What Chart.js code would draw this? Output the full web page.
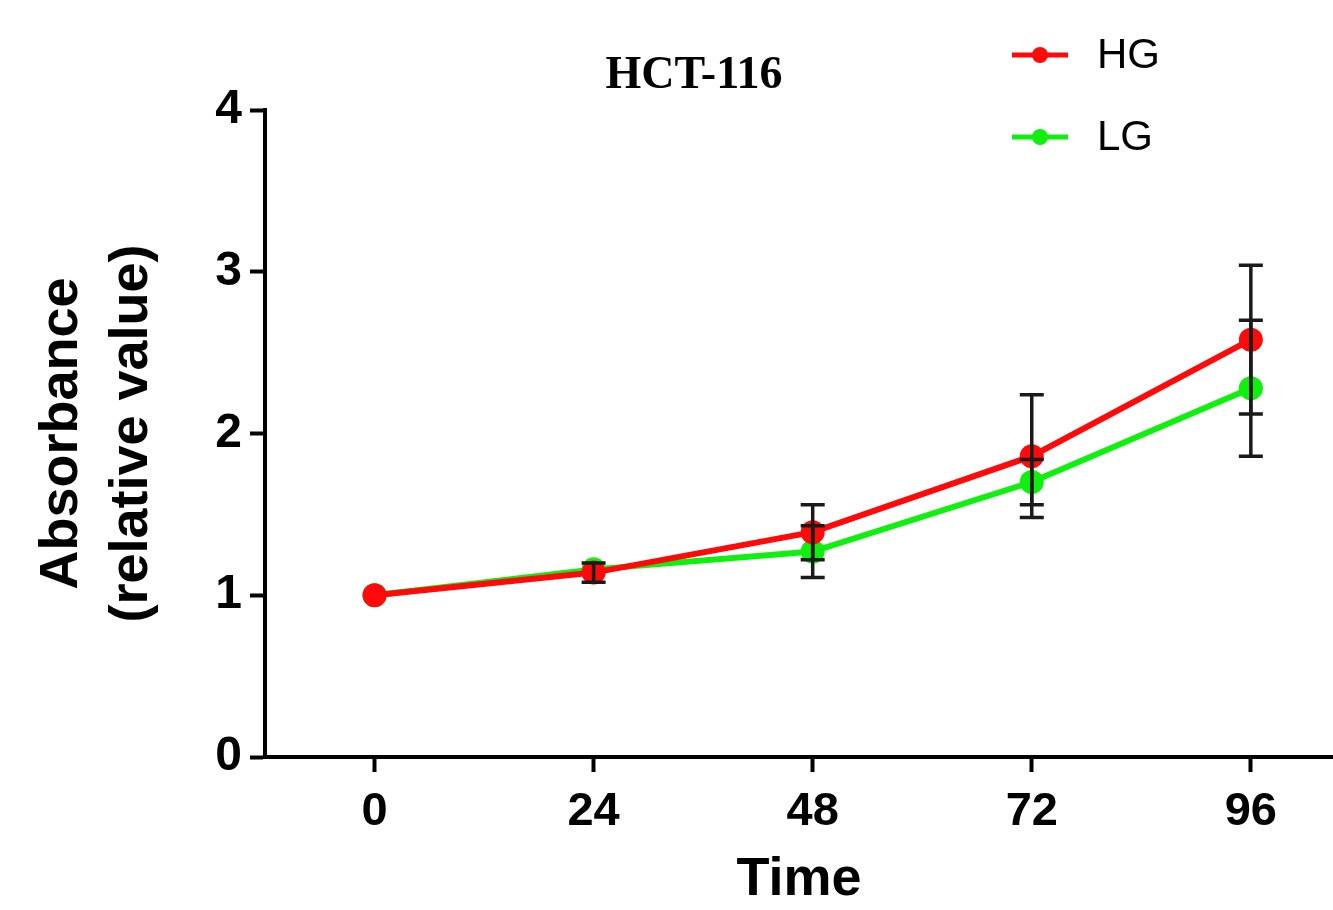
<!DOCTYPE html>
<html>
<head>
<meta charset="utf-8">
<title>HCT-116</title>
<script src="https://cdn.jsdelivr.net/npm/chart.js@4.4.0/dist/chart.umd.min.js"></script>
<style>
  html, body { margin: 0; padding: 0; background: #fff; }
</style>
</head>
<body>
<canvas id="mainChart" width="1333" height="910"></canvas>
<script>
// data
const timePoints = [0, 24, 48, 72, 96];
const xTickLabels = ['0', '24', '48', '72', '96'];
const yTickValues = [0, 1, 2, 3, 4];

const hgValues = [1.00, 1.14, 1.39, 1.86, 2.58];
const hgErrors = [0.00, 0.06, 0.17, 0.38, 0.46];
const lgValues = [1.00, 1.16, 1.27, 1.70, 2.28];
const lgErrors = [0.00, 0.00, 0.16, 0.14, 0.42];

const RED = '#ff0a0a';
const GREEN = '#0ff00f';

function toPoints(values) {
  return timePoints.map((t, i) => ({ x: t, y: values[i] }));
}

// black SD bars, drawn on top of the lines
const errorBars = {
  id: 'errorBars',
  afterDatasetsDraw(chart) {
    const ctx = chart.ctx;
    const xs = chart.scales.x, ys = chart.scales.y;
    ctx.save();
    ctx.strokeStyle = '#1a1a1a';
    ctx.lineWidth = 3.5;
    chart.data.datasets.forEach(ds => {
      ds.errors.forEach((e, i) => {
        if (!e) return;
        const px = xs.getPixelForValue(timePoints[i]);
        const top = ys.getPixelForValue(ds.data[i].y + e);
        const bot = ys.getPixelForValue(ds.data[i].y - e);
        ctx.beginPath();
        ctx.moveTo(px, top); ctx.lineTo(px, bot);
        ctx.moveTo(px - 12, top); ctx.lineTo(px + 12, top);
        ctx.moveTo(px - 12, bot); ctx.lineTo(px + 12, bot);
        ctx.stroke();
      });
    });
    ctx.restore();
  }
};

// title + legend in the top area
const decorations = {
  id: 'decorations',
  afterDraw(chart) {
    const ctx = chart.ctx;
    ctx.save();
    ctx.fillStyle = '#000';
    ctx.textAlign = 'center';
    ctx.textBaseline = 'middle';
    ctx.font = 'bold 46px "Liberation Serif", "Times New Roman", serif';
    ctx.fillText('HCT-116', 694, 76);

    chart.data.datasets.forEach((ds, i) => {
      const y = 55 + i * 82;
      ctx.strokeStyle = ds.borderColor;
      ctx.lineWidth = 5;
      ctx.beginPath();
      ctx.moveTo(1012, y); ctx.lineTo(1068, y);
      ctx.stroke();
      ctx.fillStyle = ds.borderColor;
      ctx.beginPath();
      ctx.arc(1040, y, 8, 0, Math.PI * 2);
      ctx.fill();
      ctx.fillStyle = '#000';
      ctx.textAlign = 'left';
      ctx.font = '42px "Liberation Sans", Arial, sans-serif';
      ctx.fillText(ds.label, 1097, y + 1);
    });
    ctx.restore();
  }
};

const axisFont = { family: '"Liberation Sans", Arial, sans-serif', weight: 'bold' };

new Chart(document.getElementById('mainChart').getContext('2d'), {
  type: 'line',
  data: {
    datasets: [
      {
        label: 'HG',
        data: toPoints(hgValues),
        errors: hgErrors,
        borderColor: RED,
        backgroundColor: RED,
        pointBackgroundColor: RED,
        pointBorderWidth: 0,
        pointRadius: 12,
        borderWidth: 6,
        tension: 0,
        clip: false
      },
      {
        label: 'LG',
        data: toPoints(lgValues),
        errors: lgErrors,
        borderColor: GREEN,
        backgroundColor: GREEN,
        pointBackgroundColor: GREEN,
        pointBorderWidth: 0,
        pointRadius: 12,
        borderWidth: 6,
        tension: 0,
        clip: false
      }
    ]
  },
  options: {
    responsive: false,
    animation: false,
    layout: { padding: { top: 110, left: 0, right: 0, bottom: 0 }, autoPadding: false },
    plugins: {
      legend: { display: false },
      title: { display: false },
      tooltip: { enabled: false }
    },
    scales: {
      x: {
        type: 'linear',
        min: -12,
        max: 105,
        afterBuildTicks: scale => { scale.ticks = timePoints.map(v => ({ value: v })); },
        afterFit: scale => { scale.height = 153; },
        ticks: {
          color: '#000',
          font: { ...axisFont, size: 47 },
          padding: 12,
          maxRotation: 0,
          callback: (v) => xTickLabels[timePoints.indexOf(v)]
        },
        grid: { drawOnChartArea: false, drawTicks: true, tickLength: 15, tickWidth: 4, tickColor: '#000' },
        border: { display: true, width: 4, color: '#000' },
        title: {
          display: true,
          text: 'Time',
          color: '#000',
          font: { ...axisFont, size: 54, lineHeight: 1.1 },
          padding: { top: 0, bottom: 0 }
        }
      },
      y: {
        min: 0,
        max: 4,
        afterBuildTicks: scale => { scale.ticks = yTickValues.map(v => ({ value: v })); },
        afterFit: scale => { scale.width = 265; },
        ticks: {
          color: '#000',
          font: { ...axisFont, size: 48 },
          padding: 8
        },
        grid: { drawOnChartArea: false, drawTicks: true, tickLength: 15, tickWidth: 4, tickColor: '#000' },
        border: { display: true, width: 4, color: '#000' },
        title: {
          display: true,
          text: ['Absorbance', '(relative value)'],
          color: '#000',
          font: { ...axisFont, size: 54, lineHeight: 1.3 },
          padding: { top: 27, bottom: 0 }
        }
      }
    }
  },
  plugins: [errorBars, decorations]
});
</script>
</body>
</html>
